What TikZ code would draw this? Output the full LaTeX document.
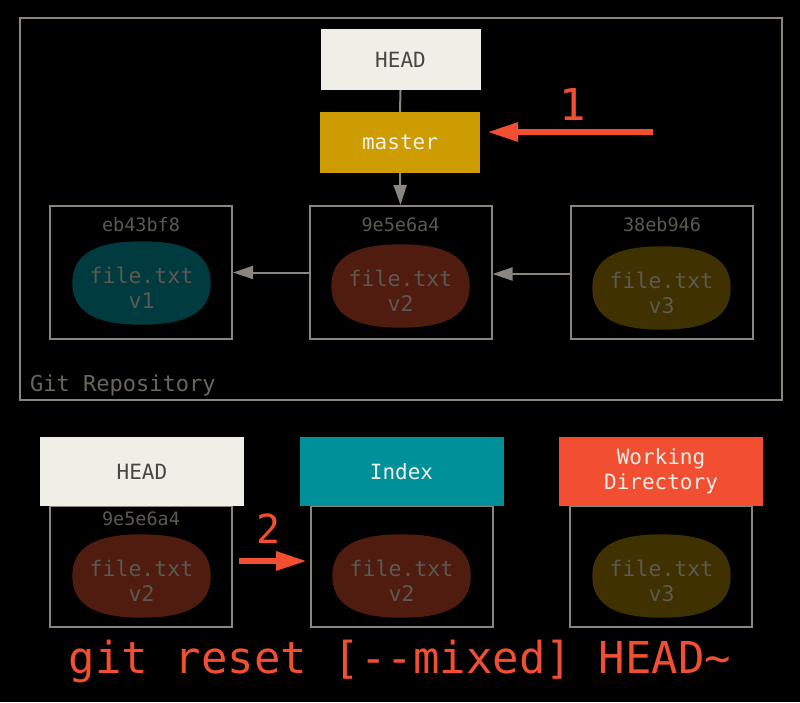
\documentclass[tikz,border=0pt]{standalone}
\usepackage{fontspec}
\setmainfont{DejaVu Sans Mono}
\usetikzlibrary{arrows.meta,calc}
\definecolor{framec}{HTML}{8A857E}
\definecolor{headfill}{HTML}{F0EFE7}
\definecolor{headtxt}{HTML}{4A4742}
\definecolor{masterfill}{HTML}{CC9C00}
\definecolor{indexfill}{HTML}{00909A}
\definecolor{gitred}{HTML}{F14E32}
\definecolor{blobA}{HTML}{003B40}
\definecolor{blobB}{HTML}{501C0F}
\definecolor{blobC}{HTML}{403100}
\definecolor{dimtxt}{HTML}{5C5852}
\definecolor{repotxt}{HTML}{6A665F}
\definecolor{lighttxt}{HTML}{F0EFE7}
\newcommand\myblobfill[2]{%
  \fill[#2] (#1.north)
    .. controls ($(#1.north)!0.68!(#1.north east)$) and ($(#1.east)!0.68!(#1.north east)$) .. (#1.east)
    .. controls ($(#1.east)!0.68!(#1.south east)$) and ($(#1.south)!0.68!(#1.south east)$) .. (#1.south)
    .. controls ($(#1.south)!0.68!(#1.south west)$) and ($(#1.west)!0.68!(#1.south west)$) .. (#1.west)
    .. controls ($(#1.west)!0.68!(#1.north west)$) and ($(#1.north)!0.68!(#1.north west)$) .. (#1.north) -- cycle;}
\begin{document}
\begin{tikzpicture}[x=1pt,y=-1pt,
  reftop/.style={inner sep=0pt, minimum width=160pt, minimum height=61pt, font=\fontsize{21}{25}\selectfont},
  refbot/.style={inner sep=0pt, minimum width=204pt, minimum height=69pt, align=center, font=\fontsize{21}{25}\selectfont},
  commitbox/.style={draw=framec, line width=2pt, inner sep=0pt, minimum width=182pt, minimum height=133pt},
  lowbox/.style={draw=framec, line width=2pt, inner sep=0pt, minimum width=182pt, minimum height=121pt},
  blobshape/.style={inner sep=0pt, minimum width=138pt, minimum height=83pt},
  blobtxt/.style={inner sep=0pt, align=center, text=dimtxt, font=\fontsize{21.5}{25}\selectfont},
  hashlbl/.style={text=dimtxt, inner sep=0pt, font=\fontsize{18.5}{22}\selectfont},
  grayarrow/.style={draw=framec, line width=2pt, -{Triangle[length=20pt,width=13pt]}},
  redarrow/.style={draw=gitred, line width=6pt, -{Triangle[length=31pt,width=18pt]}},
  redlbl/.style={text=gitred, inner sep=0pt, font=\fontsize{44}{50}\selectfont}
]
\useasboundingbox (0,0) rectangle (800,702);
\fill[black] (0,0) rectangle (800,702);

% repository frame
\node[draw=framec, line width=2pt, inner sep=0pt, minimum width=762pt, minimum height=382pt] (repo) at (401,209) {};
\node[anchor=west, text=repotxt, inner sep=0pt, font=\fontsize{22}{26}\selectfont] (repolbl) at (30,385) {Git Repository};

% HEAD and master
\node[reftop, fill=headfill, text=headtxt] (head) at (400.5,59.5) {HEAD};
\node[reftop, fill=masterfill, text=lighttxt] (master) at (400,142.5) {master};

% commits
\node[commitbox] (c1) at (141,272.5) {};
\node[commitbox] (c2) at (400.5,272.5) {};
\node[commitbox] (c3) at (662,272.5) {};
\node[hashlbl] (h1) at (141,225) {eb43bf8};
\node[hashlbl] (h2) at (400.5,225) {9e5e6a4};
\node[hashlbl] (h3) at (662,225) {38eb946};
\node[blobshape] (b1) at (141.5,283) {};
\node[blobshape] (b2) at (400.5,286) {};
\node[blobshape] (b3) at (661.5,288) {};
\myblobfill{b1}{blobA}
\myblobfill{b2}{blobB}
\myblobfill{b3}{blobC}
\node[blobtxt] (t1) at ([yshift=-5pt]b1.center) {file.txt\\v1};
\node[blobtxt] (t2) at ([yshift=-5pt]b2.center) {file.txt\\v2};
\node[blobtxt] (t3) at ([yshift=-5pt]b3.center) {file.txt\\v3};

\draw[framec, line width=2pt] (head.south) -- (master.north);
\draw[grayarrow] (master.south) -- (c2.north);
\draw[grayarrow] (c2.west) -- (c1.east);
\draw[grayarrow] ([yshift=-1.5pt]c3.west) -- ([yshift=-1.5pt]c2.east);

% arrow 1
\coordinate (r1) at (653,132);
\draw[redarrow, shorten >=7pt] (r1) -- (r1 -| master.east);
\node[redlbl] (n1) at (573,104) {1};

% bottom row
\node[lowbox] (lb1) at (141,566.5) {};
\node[lowbox] (lb2) at (402,566.5) {};
\node[lowbox] (lb3) at (661,566.5) {};
\node[refbot, fill=headfill, text=headtxt] (head2) at (142,471.5) {HEAD};
\node[refbot, fill=indexfill, text=lighttxt] (index) at (401.5,471.5) {Index};
\node[refbot, fill=gitred, text=lighttxt] (wd) at (661,471.5) {Working\\Directory};
\node[hashlbl] (h4) at (141,519) {9e5e6a4};
\node[blobshape] (b4) at (141.5,576) {};
\node[blobshape] (b5) at (401.5,576) {};
\node[blobshape] (b6) at (661.5,576) {};
\myblobfill{b4}{blobB}
\myblobfill{b5}{blobB}
\myblobfill{b6}{blobC}
\node[blobtxt] (t4) at ([yshift=-5pt]b4.center) {file.txt\\v2};
\node[blobtxt] (t5) at ([yshift=-5pt]b5.center) {file.txt\\v2};
\node[blobtxt] (t6) at ([yshift=-5pt]b6.center) {file.txt\\v3};

% arrow 2
\draw[redarrow, shorten <=6pt, shorten >=3pt] ([yshift=5.5pt]lb1.east) -- ([yshift=5.5pt]lb2.west);
\node[redlbl, font=\fontsize{40}{46}\selectfont] (n2) at (269,529) {2};

% command
\node[redlbl] (cmd) at (400,661) {git reset [-{}-mixed] HEAD\textasciitilde};
\end{tikzpicture}
\end{document}
